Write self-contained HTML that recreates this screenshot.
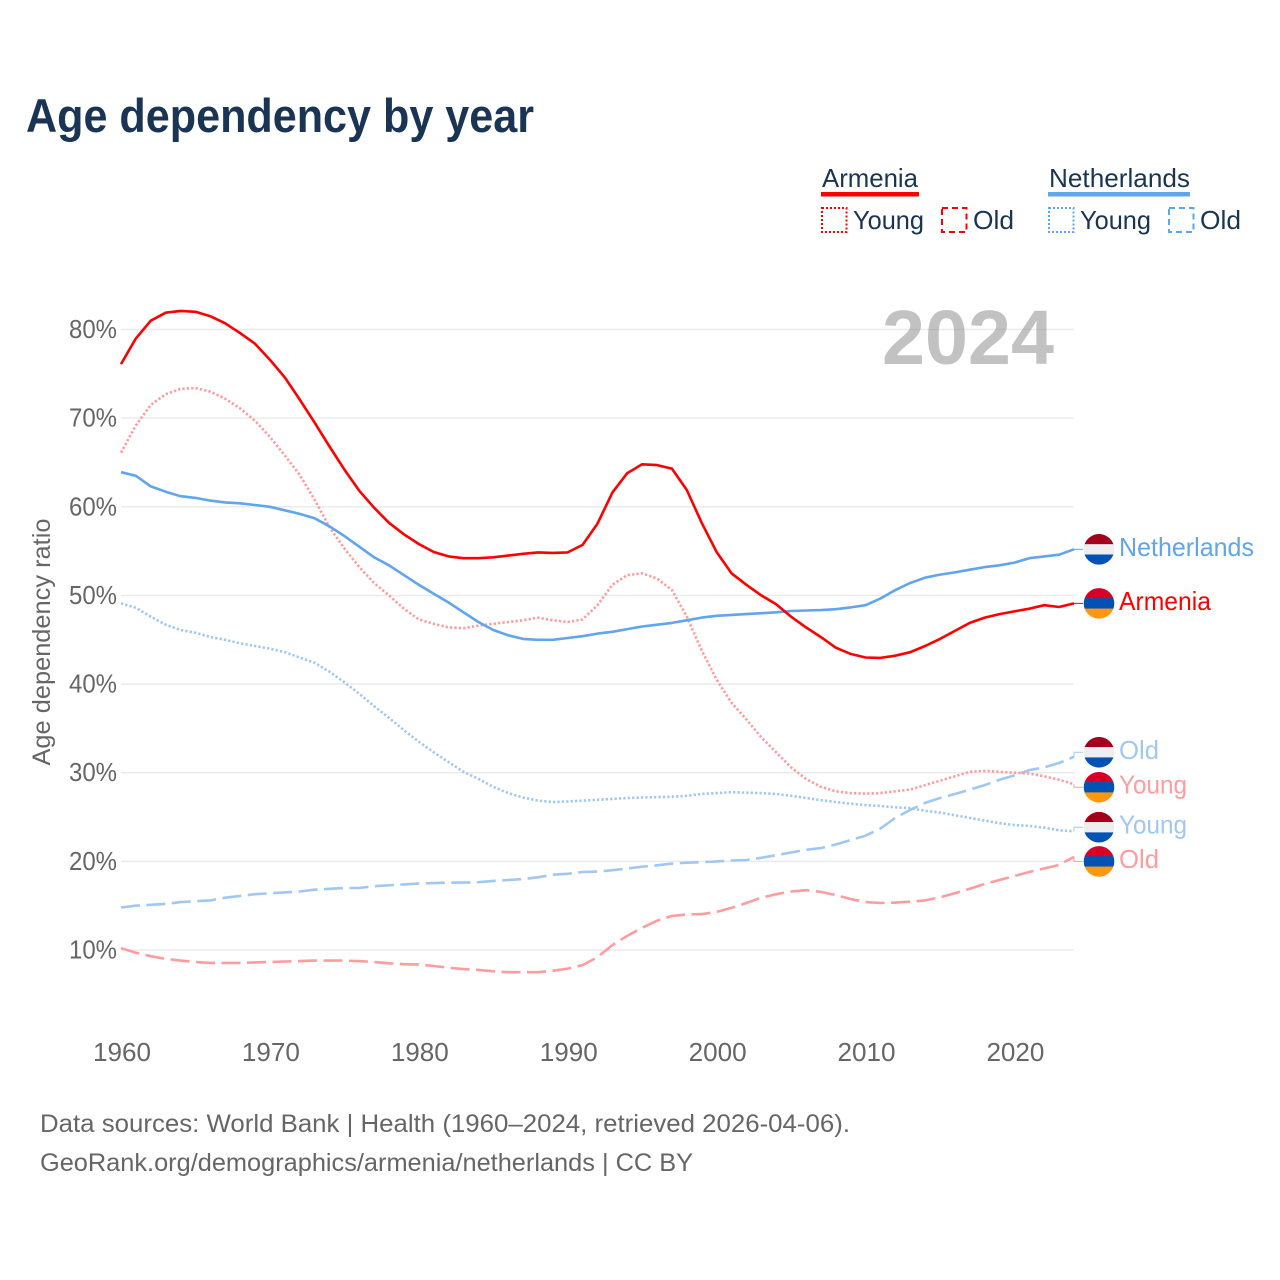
<!DOCTYPE html>
<html lang="en">
<head>
<meta charset="utf-8">
<title>Age dependency by year</title>
<style>
html,body{margin:0;padding:0;background:#fff;}
svg{display:block;}
text{font-family:"Liberation Sans",sans-serif;}
</style>
</head>
<body>
<svg id="chart" xmlns="http://www.w3.org/2000/svg" width="1280" height="1280" viewBox="0 0 1280 1280">
  <rect x="0" y="0" width="1280" height="1280" fill="#ffffff"/>
  <text x="26" y="132" font-size="47" font-weight="700" fill="#1a3554" textLength="508" lengthAdjust="spacingAndGlyphs">Age dependency by year</text>

  <g>
    <text x="822" y="187" font-size="26" fill="#1a3554" textLength="96" lengthAdjust="spacingAndGlyphs">Armenia</text>
    <rect x="821" y="192" width="98" height="4.5" fill="#ff0000"/>
    <rect x="822" y="208" width="24.5" height="24" fill="none" stroke="#ff0000" stroke-width="2" stroke-dasharray="2 2"/>
    <text x="853" y="229" font-size="26" fill="#1a3554" textLength="71" lengthAdjust="spacingAndGlyphs">Young</text>
    <rect x="942" y="208" width="24.5" height="24" fill="none" stroke="#ff0000" stroke-width="2" stroke-dasharray="6 4"/>
    <text x="973" y="229" font-size="26" fill="#1a3554" textLength="41" lengthAdjust="spacingAndGlyphs">Old</text>

    <text x="1049" y="187" font-size="26" fill="#1a3554" textLength="141" lengthAdjust="spacingAndGlyphs">Netherlands</text>
    <rect x="1048" y="192" width="142" height="4.5" fill="#60a5ee"/>
    <rect x="1049" y="208" width="24.5" height="24" fill="none" stroke="#60a5ee" stroke-width="2" stroke-dasharray="2 2"/>
    <text x="1080" y="229" font-size="26" fill="#1a3554" textLength="71" lengthAdjust="spacingAndGlyphs">Young</text>
    <rect x="1169" y="208" width="24.5" height="24" fill="none" stroke="#60a5ee" stroke-width="2" stroke-dasharray="6 4"/>
    <text x="1200" y="229" font-size="26" fill="#1a3554" textLength="41" lengthAdjust="spacingAndGlyphs">Old</text>
  </g>

  <g id="grid"></g>
  <text x="882" y="364" font-size="77" font-weight="700" fill="#858585" fill-opacity="0.5" textLength="172" lengthAdjust="spacingAndGlyphs">2024</text>
  <g id="yticks"></g>
  <g id="xticks"></g>
  <text transform="translate(50,642) rotate(-90)" text-anchor="middle" font-size="25" fill="#666666" textLength="247" lengthAdjust="spacingAndGlyphs">Age dependency ratio</text>
  <g id="series"></g>
  <g id="endlabels"></g>

  <text x="40" y="1132" font-size="25" fill="#666666" textLength="810" lengthAdjust="spacingAndGlyphs">Data sources: World Bank | Health (1960–2024, retrieved 2026-04-06).</text>
  <text x="40" y="1171" font-size="25" fill="#666666" textLength="653" lengthAdjust="spacingAndGlyphs">GeoRank.org/demographics/armenia/netherlands | CC BY</text>
</svg>
<script>
var startYear = 1960;
var xTickLabels = [1960, 1970, 1980, 1990, 2000, 2010, 2020];
var yTickLabels = [10, 20, 30, 40, 50, 60, 70, 80];
var armeniaTotal = [76.1,79.0,81.0,81.9,82.1,82.0,81.5,80.7,79.6,78.4,76.6,74.6,72.1,69.5,66.8,64.2,61.8,59.9,58.2,56.9,55.8,54.9,54.4,54.2,54.2,54.3,54.5,54.7,54.85,54.8,54.85,55.7,58.1,61.6,63.8,64.8,64.7,64.3,61.9,58.2,54.9,52.5,51.2,50.0,49.0,47.6,46.4,45.3,44.1,43.4,43.0,42.95,43.2,43.6,44.3,45.1,46.0,46.9,47.5,47.9,48.2,48.5,48.9,48.7,49.1];
var armeniaYoung = [66.1,69.2,71.5,72.7,73.3,73.4,73.0,72.2,71.1,69.7,67.9,65.8,63.6,60.8,57.7,55.3,53.2,51.4,50.0,48.5,47.3,46.8,46.4,46.3,46.6,46.8,47.0,47.2,47.5,47.2,47.0,47.3,48.9,51.2,52.3,52.5,51.9,50.6,47.6,43.8,40.5,37.9,36.0,34.0,32.3,30.6,29.3,28.4,27.9,27.7,27.65,27.7,27.9,28.1,28.6,29.1,29.6,30.1,30.2,30.1,30.0,29.9,29.6,29.2,28.7];
var armeniaOld = [10.2,9.7,9.3,9.0,8.8,8.65,8.55,8.55,8.55,8.6,8.65,8.7,8.75,8.8,8.8,8.8,8.75,8.65,8.5,8.4,8.35,8.2,8.0,7.85,7.75,7.6,7.5,7.5,7.5,7.65,7.9,8.3,9.2,10.55,11.6,12.5,13.3,13.85,14.0,14.05,14.3,14.75,15.3,15.9,16.3,16.6,16.75,16.55,16.2,15.75,15.4,15.3,15.35,15.45,15.6,15.95,16.4,16.9,17.45,17.9,18.35,18.8,19.2,19.6,20.5];
var netherlandsTotal = [63.9,63.5,62.3,61.7,61.2,61.0,60.7,60.5,60.4,60.2,60.0,59.6,59.2,58.7,57.8,56.7,55.5,54.3,53.4,52.3,51.2,50.2,49.2,48.1,47.0,46.1,45.5,45.1,45.0,45.0,45.2,45.4,45.7,45.9,46.2,46.5,46.7,46.9,47.2,47.5,47.7,47.8,47.9,48.0,48.1,48.25,48.3,48.35,48.45,48.65,48.9,49.65,50.6,51.4,52.0,52.35,52.6,52.9,53.2,53.4,53.7,54.2,54.4,54.6,55.2];
var netherlandsYoung = [49.1,48.6,47.6,46.7,46.1,45.8,45.3,45.0,44.6,44.3,44.0,43.6,43.0,42.4,41.4,40.2,38.9,37.5,36.2,34.8,33.5,32.3,31.2,30.1,29.3,28.4,27.7,27.2,26.85,26.7,26.75,26.85,26.95,27.05,27.15,27.2,27.25,27.3,27.4,27.6,27.7,27.8,27.75,27.7,27.6,27.4,27.15,26.9,26.7,26.5,26.35,26.25,26.1,26.0,25.7,25.5,25.2,24.9,24.6,24.3,24.1,24.0,23.8,23.5,23.4];
var netherlandsOld = [14.8,15.0,15.1,15.2,15.4,15.5,15.6,15.9,16.1,16.3,16.4,16.5,16.6,16.8,16.9,17.0,17.0,17.2,17.3,17.4,17.5,17.55,17.6,17.6,17.65,17.8,17.9,18.0,18.2,18.5,18.6,18.8,18.85,19.0,19.2,19.4,19.55,19.75,19.85,19.9,20.0,20.1,20.15,20.4,20.7,21.0,21.3,21.5,21.9,22.4,22.9,23.7,24.9,25.8,26.6,27.15,27.6,28.1,28.6,29.2,29.7,30.3,30.6,31.1,31.8];

var NS = 'http://www.w3.org/2000/svg';
function xScale(year) { return 121 + (year - 1960) * (953 / 64); }
function yScale(v) { return 950 - (v - 10) * 8.864; }
function make(tag, attrs, parent) {
  var el = document.createElementNS(NS, tag);
  for (var k in attrs) { el.setAttribute(k, attrs[k]); }
  parent.appendChild(el);
  return el;
}
var gridG = document.getElementById('grid');
var yG = document.getElementById('yticks');
var xG = document.getElementById('xticks');
var seriesG = document.getElementById('series');
var endG = document.getElementById('endlabels');

yTickLabels.forEach(function (v) {
  var line = make('line', {x1: 121, x2: 1074, y1: yScale(v), y2: yScale(v), stroke: '#ebebeb', 'stroke-width': 1.5}, gridG);
  
  
  var t = make('text', {x: 69, y: yScale(v) + 8.5, 'font-size': 26, fill: '#666666', textLength: 48, lengthAdjust: 'spacingAndGlyphs'}, yG);
  t.textContent = v + '%';
  
  
});

xTickLabels.forEach(function (yr) {
  var t = make('text', {x: xScale(yr) - 28, y: 1061, 'font-size': 26, fill: '#666666', textLength: 58, lengthAdjust: 'spacingAndGlyphs'}, xG);
  t.textContent = String(yr);
  
  
});

function drawSeries(values, color, dash, name) {
  var pts = values.map(function (v, i) {
    return xScale(startYear + i).toFixed(1) + ',' + yScale(v).toFixed(1);
  }).join(' ');
  var line = make('polyline', {points: pts, fill: 'none', stroke: color, 'stroke-width': 2.6, 'stroke-linejoin': 'round', 'stroke-dasharray': dash}, seriesG);
  
  
}

var RED = '#ff0000', BLUE = '#60a5ee', PINK = '#ff9c9f', SKY = '#a0c8f2';
drawSeries(netherlandsOld, SKY, '19 6.5', 'netherlands-old-line');
drawSeries(armeniaOld, PINK, '19 6.5', 'armenia-old-line');
drawSeries(netherlandsYoung, SKY, '2.3 2.1', 'netherlands-young-line');
drawSeries(armeniaYoung, PINK, '2.3 2.1', 'armenia-young-line');
drawSeries(netherlandsTotal, BLUE, 'none', 'netherlands-total-line');
drawSeries(armeniaTotal, RED, 'none', 'armenia-total-line');

function drawFlag(cy, colors, parent, clipId) {
  var clip = make('clipPath', {id: clipId}, parent);
  make('circle', {cx: 1099, cy: cy, r: 15.3}, clip);
  var g = make('g', {'clip-path': 'url(#' + clipId + ')'}, parent);
  
  
  colors.forEach(function (c, i) {
    make('rect', {x: 1083, y: cy - 15.5 + i * 10.33, width: 32, height: 10.6, fill: c}, g);
  });
}

var NL_FLAG = ['#a2001d', '#eeeeee', '#0052b4'];
var AM_FLAG = ['#d80027', '#0052b4', '#ff9811'];
function drawEndLabel(values, shift, color, flag, text, width, name) {
  var last = values[values.length - 1];
  var y0 = yScale(last);
  var cy = y0 + shift;
  var conn = make('polyline', {points: '1074,' + y0.toFixed(1) + ' 1074,' + cy.toFixed(1) + ' 1083,' + cy.toFixed(1), fill: 'none', stroke: color, 'stroke-width': 1}, endG);
  
  
  drawFlag(cy, flag, endG, name + '-clip');
  var t = make('text', {x: 1119, y: cy + 6.5, 'font-size': 26, fill: color, textLength: width, lengthAdjust: 'spacingAndGlyphs'}, endG);
  t.textContent = text;
  
  
}
drawEndLabel(netherlandsTotal, 0, BLUE, NL_FLAG, 'Netherlands', 135, 'netherlands-total');
drawEndLabel(armeniaTotal, 0, RED, AM_FLAG, 'Armenia', 92, 'armenia-total');
drawEndLabel(netherlandsOld, -4.5, SKY, NL_FLAG, 'Old', 40, 'netherlands-old');
drawEndLabel(armeniaYoung, 3, PINK, AM_FLAG, 'Young', 68, 'armenia-young');
drawEndLabel(netherlandsYoung, -4, SKY, NL_FLAG, 'Young', 68, 'netherlands-young');
drawEndLabel(armeniaOld, 4.5, PINK, AM_FLAG, 'Old', 40, 'armenia-old');
</script>
</body>
</html>
